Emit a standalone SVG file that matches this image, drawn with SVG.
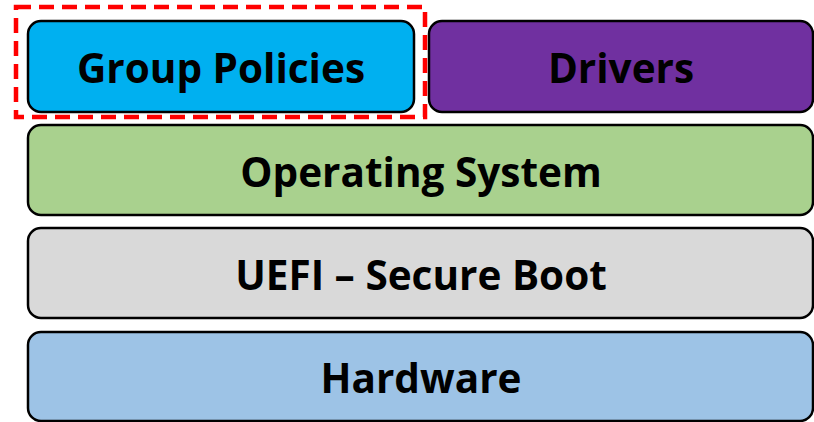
<svg xmlns="http://www.w3.org/2000/svg" width="814" height="422" viewBox="0 0 814 422">
  <style>
    .box { stroke: #000; stroke-width: 2.5; }
    .label { font-family: "Open Sans", "Liberation Sans", sans-serif; font-weight: bold; font-size: 40.5px; fill: #000; text-anchor: middle; }
    .highlight { fill: none; stroke: #FF0000; stroke-width: 4.5; stroke-dasharray: 15 8; }
  </style>
  <rect width="814" height="422" fill="#fff"/>
  <g id="group-policies">
    <rect class="box" x="28" y="21" width="386" height="91" rx="13" fill="#00B0F0"/>
    <text class="label" x="221" y="83">Group Policies</text>
  </g>
  <g id="drivers">
    <rect class="box" x="429" y="21" width="384" height="91" rx="13" fill="#7030A0"/>
    <text class="label" x="621" y="83">Drivers</text>
  </g>
  <g id="operating-system">
    <rect class="box" x="28" y="125" width="785" height="90" rx="13" fill="#A9D18E"/>
    <text class="label" x="421" y="187">Operating System</text>
  </g>
  <g id="uefi">
    <rect class="box" x="28" y="228" width="785" height="90" rx="13" fill="#D9D9D9"/>
    <text class="label" x="421" y="290">UEFI – Secure Boot</text>
  </g>
  <g id="hardware">
    <rect class="box" x="28" y="332" width="785" height="89" rx="13" fill="#9DC3E6"/>
    <text class="label" x="421" y="393">Hardware</text>
  </g>
  <g id="connectors"/>
  <rect class="highlight" x="16" y="7" width="409" height="110"/>
</svg>
